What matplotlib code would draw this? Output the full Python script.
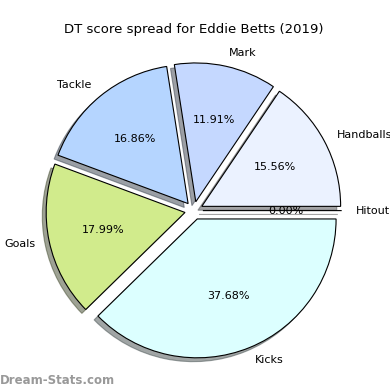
import matplotlib
matplotlib.use("Agg")
import matplotlib.pyplot as plt

labels = ["Handballs", "Mark", "Tackle", "Goals", "Kicks", "Hitout"]
values = [15.56, 11.91, 16.86, 17.99, 37.68, 0.0]
colors = ["#ebf2ff", "#c5d8ff", "#b5d5ff", "#d1eb8c", "#dcffff", "#ffffff"]
explode = [0.065] * 6

fig = plt.figure(figsize=(3.9, 3.9), dpi=100)
ax = fig.add_axes([-0.013, 0.015, 1.02, 0.89])
ax.pie(values, labels=labels, colors=colors, explode=explode, autopct="%1.2f%%",
       shadow=True, startangle=0, wedgeprops={"edgecolor": "black", "linewidth": 0.8},
       textprops={"fontsize": 8})
ax.set_aspect("equal")
ax.set_title("DT score spread for Eddie Betts (2019)", fontsize=9.5, pad=3)
fig.text(0.0, 0.008, "Dream-Stats.com", fontsize=8.5, color="#999999", fontweight="bold", ha="left", va="bottom")
fig.savefig("out.png", dpi=100)
